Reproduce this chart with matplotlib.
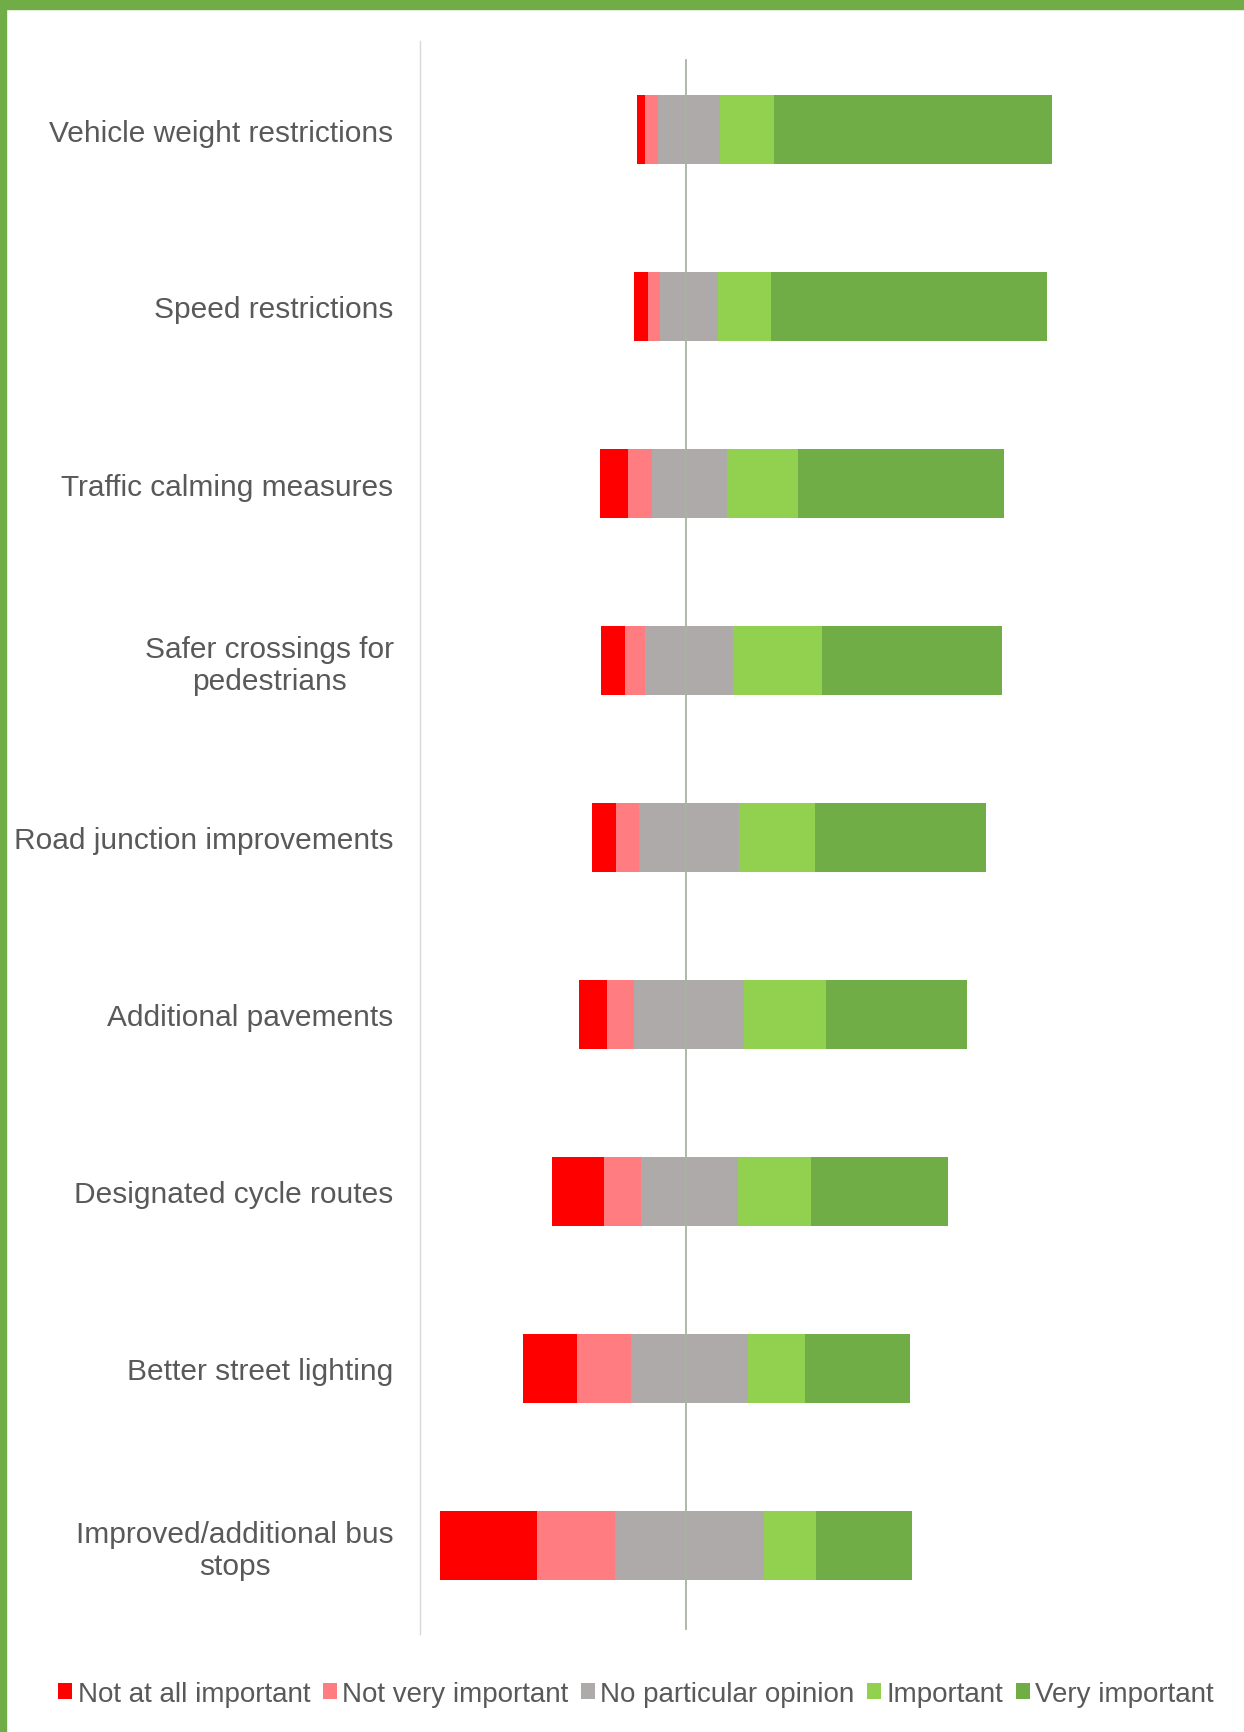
import numpy as np
import matplotlib.pyplot as plt
from matplotlib.patches import Rectangle

plt.rcParams['font.family'] = ['Liberation Sans', 'DejaVu Sans']

categories = ['Vehicle weight restrictions', 'Speed restrictions',
              'Traffic calming measures', 'Safer crossings for\npedestrians',
              'Road junction improvements', 'Additional pavements',
              'Designated cycle routes', 'Better street lighting',
              'Improved/additional bus\nstops']
series = ['Not at all important', 'Not very important', 'No particular opinion',
          'Important', 'Very important']
not_at_all = [1.6, 2.8, 6.1, 5.1, 5.1, 6.1, 11.0, 11.4, 20.6]
not_very = [2.8, 2.6, 4.9, 4.2, 4.9, 5.6, 7.7, 11.4, 16.4]
no_opinion = [13.1, 12.4, 15.9, 18.7, 21.3, 23.4, 20.6, 24.8, 31.5]
important = [11.4, 11.2, 15.0, 18.7, 15.9, 17.3, 15.4, 12.1, 11.2]
very_important = [58.9, 58.4, 43.7, 38.3, 36.4, 29.9, 29.2, 22.2, 20.3]
colors = ['#FF0000', '#FF7C80', '#AEAAAA', '#92D050', '#70AD47']

fig = plt.figure(figsize=(12.44, 17.33), dpi=100)
# green frame (top and left)
fig.patches.append(Rectangle((0, 1 - 10 / 1733), 1, 10 / 1733, transform=fig.transFigure,
                             color='#70AD47', zorder=0))
fig.patches.append(Rectangle((0, 0), 6 / 1244, 1, transform=fig.transFigure,
                             color='#70AD47', zorder=0))

ax = fig.add_axes([420 / 1244, 1 - 1635 / 1733, 680 / 1244, 1593 / 1733])

y = np.arange(len(categories))
data = [np.array(not_at_all), np.array(not_very), np.array(no_opinion),
        np.array(important), np.array(very_important)]

# diverging: neutral split around zero
left = -(data[0] + data[1] + data[2] / 2)
for vals, col, name in zip(data, colors, series):
    ax.barh(y, vals, left=left, height=0.387, color=col, label=name)
    left = left + vals

ax.axvline(-0.7, ymin=0.003, ymax=0.988, color='#A9B3A0', linewidth=1.3, zorder=3)

ax.set_xlim(-57, 87)
ax.set_ylim(len(categories) - 0.5, -0.5)
ax.set_yticks(y, categories)
ax.tick_params(axis='y', length=0, pad=19, labelsize=21.5, labelcolor='#595959')
for lbl in ax.get_yticklabels():
    lbl.set_multialignment('center')
    lbl.set_linespacing(1.15)
ax.set_xticks([])
for s in ['top', 'right', 'bottom']:
    ax.spines[s].set_visible(False)
ax.spines['left'].set_color('#D9D9D9')
ax.spines['left'].set_linewidth(1)

fig.legend(loc='center', bbox_to_anchor=(636 / 1244, 1 - 1695 / 1733), ncol=5,
           frameon=False, fontsize=20, labelcolor='#595959', handlelength=0.5,
           handleheight=0.5, handletextpad=0.2, columnspacing=0.45)

plt.savefig('out.png', dpi=100, facecolor='white')
